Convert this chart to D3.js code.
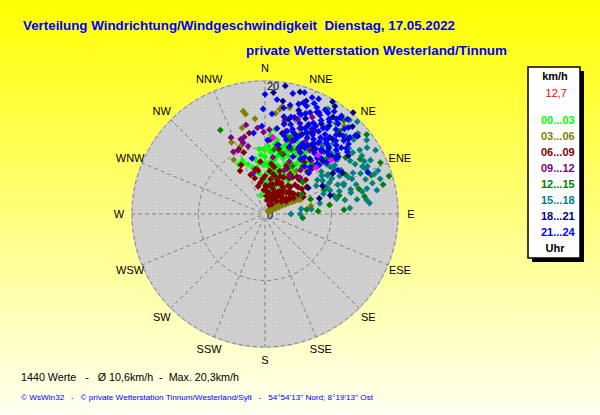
<!DOCTYPE html>
<html lang="de">
<head>
  <meta charset="utf-8">
  <title>Windrichtung / Windgeschwindigkeit</title>
  <script src="https://cdn.jsdelivr.net/npm/d3@7"></script>
  <style>
    body { margin: 0; background: #fff; }
    svg { display: block; font-family: Arial, "Liberation Sans", sans-serif; }
  </style>
</head>
<body>
  <svg id="chart" width="600" height="415"></svg>

  <script>
    const directions = ["N", "NNE", "NE", "ENE", "E", "ESE", "SE", "SSE", "S", "SSW", "SW", "WSW", "W", "WNW", "NW", "NNW"]
    const periods = ["00...03", "03...06", "06...09", "09...12", "12...15", "15...18", "18...21", "21...24"]
    const periodColors = ["#00ff00", "#808000", "#800000", "#800080", "#008000", "#008080", "#000080", "#0000ff"]

    // [Richtung in Grad, Geschwindigkeit km/h]
    const p00 = [[332,8.5],[337,8.7],[341,7.9],[336,8.3],[348,2.9],[345,7.2],[350,8.4],[352,6.1],[355,9.8],[358,7.4],[0,8.6],[2,5.9],[3,10.2],[5,7.1],[6,9.3],[8,6.4],[9,11.3],[10,8.2],[12,5.4],[13,9.6],[14,7.5],[16,10.7],[17,6.3],[18,8.8],[20,11.7],[21,5.1],[22,9.4],[23,7.2],[25,10.3],[26,6.6],[27,4.9],[28,8.5],[30,11.5],[31,7.7],[33,9.6],[35,6.1],[36,12.1],[38,8.9],[40,10.4],[42,7.3],[44,11.6],[46,9.1],[15,12.4],[7,12.8],[24,13.2],[3,4.6],[11,3.9],[358,5.2],[19,4.2],[29,3.5],[4,11.9],[11,9.9],[19,10.0],[26,8.0],[33,11.0],[15,6.8],
      [1,7.6],[4,9.5],[6,8.0],[8,10.6],[10,6.8],[12,8.9],[14,10.3],[16,7.4],[18,11.1],[20,6.9],[22,8.1],[24,10.9],[26,11.8],[28,9.9],[30,6.4],[32,8.9],[34,10.5],[37,7.3],[39,9.6],[353,7.8],[356,8.9],[359,9.7],[27,6.1],[17,5.6]]
    const p03 = [[46,0.6],[47,1.1],[48,1.6],[48,2.1],[49,2.6],[50,3.1],[50,3.6],[60,0.9],[62,1.4],[63,1.9],[64,2.4],[64,2.9],[65,3.4],[65,3.9],[66,4.4],[66,4.9],[67,5.4],[68,5.8],[55,1.2],[57,2.0],[58,2.8],
      [53,1.8],[54,2.6],[56,3.4],[57,4.2],[59,4.9],[60,5.6],[61,3.0],[62,4.4],[59,2.2],[63,5.1],[52,4.0],[55,4.7],
      [348,15.8],[349,15.3],[354,14.4],[345,13.4],[335,11.9],[8,15.9],[9,16.3],[13,16.4],[6,15.2],[12,14.1],[350,7.0],[10,4.7],[80,7.0],[82,6.8],[42,17.8],[30,10.5],[20,12.6],[36,8.0],[25,6.2],[330,9.4],[340,10.8],[18,14.9],[28,14.0]]
    const p06 = [[349,12.4],[338,10.5],[341,9.8],[4,11.2],[330,7.5],[334,8.2],[340,6.3],[344,5.6],[348,6.9],[352,4.8],[355,7.9],[357,3.6],[0,5.7],[4,2.7],[6,6.5],[10,4.4],[11,7.2],[13,3.2],[14,5.9],[18,2.4],[19,6.8],[21,4.9],[24,3.6],[26,7.6],[28,5.3],[29,2.9],[33,4.1],[34,6.5],[36,3.3],[37,9.8],[39,5.5],[41,7.4],[42,2.6],[44,4.6],[46,6.3],[48,3.5],[50,8.0],[52,5.1],[54,3.9],[56,6.7],[58,4.4],[60,5.8],[62,6.5],[66,6.3],[20,10.6],[27,11.3],[12,10.0],[45,9.0],[35,1.8],[25,1.5],[3,4.1],[9,5.3],[15,4.6],[22,6.1],[30,3.9],[38,4.2],[47,5.0],
      [1,4.3],[5,3.4],[7,7.6],[9,2.1],[12,6.1],[17,4.0],[20,5.4],[22,3.0],[24,7.9],[26,2.3],[27,6.2],[30,5.0],[32,7.1],[35,4.8],[37,6.9],[40,3.8],[43,5.6],[45,7.3],[49,4.8],[51,6.4],[53,3.1],[55,5.3],[57,7.5],[59,3.7],[61,4.9],[356,5.3],[351,6.6],[346,4.3]]
    const p09 = [[342,11.8],[333,10.5],[337,10.4],[343,11.2],[355,13.0],[3,12.7],[344,6.4],[345,12.0],[346,10.5],[359,12.3],[5,11.4],[348,13.7],[336,12.6],[10,10.5],[14,12.8],[17,9.4],[20,11.6],[22,13.9],[25,8.7],[27,10.9],[29,12.4],[31,14.6],[33,9.8],[35,11.7],[37,13.3],[39,8.5],[41,10.6],[43,12.9],[46,9.7],[48,11.8],[50,14.2],[19,15.1],[26,16.2],[12,14.4],[8,8.6],[24,7.2],[33,6.8],[44,7.6]]
    const p12 = [[332,14.3],[76,18.3],[87,11.9],[87,8.0],[76,11.5],[75,14.6],[96,5.7],[52,19.4],[42,16.8],[80,15.2],[70,17.0],[64,13.5],[58,11.2],[68,9.6],[82,9.8],[60,16.5],[55,14.8],[48,12.6],[45,10.3],[38,9.2],[30,8.3],[22,10.5],[15,9.4],[35,12.2],[28,13.8],[50,7.4],[72,7.2],[84,6.3],[66,19.0],[73,19.5],[40,18.4],[18,12.1],[8,9.8],[62,6.2]]
    const p15 = [[90,3.9],[90,5.3],[82,5.5],[84,7.0],[31,18.4],[38,17.3],[49,18.5],[38,18.4],[56,17.2],[70,17.5],[63,17.8],[69,18.2],[73,18.1],[82,15.4],[77,15.0],[57,18.3],[66,13.7],[55,12.8],[50,14.2],[52,16.0],[58,15.1],[60,13.2],[62,11.4],[64,16.3],[67,15.6],[70,12.6],[72,14.4],[74,16.8],[76,13.3],[78,17.2],[80,12.2],[46,16.9],[44,14.8],[48,12.1],[53,10.6],[57,9.4],[61,8.8],[66,10.1],[71,9.3],[42,19.0],[45,19.6],[60,19.2],[35,15.9],[40,13.5],[58,11.0],[68,11.8],[75,10.7],[79,8.4],[86,12.8],[84,15.8],[54,18.9],[65,17.0],
      [47,13.5],[50,17.4],[51,11.9],[53,13.6],[55,16.1],[56,10.3],[57,12.4],[59,17.0],[61,15.5],[62,16.9],[63,12.6],[65,14.6],[66,16.6],[68,14.1],[69,12.7],[71,16.0],[73,11.7],[74,13.4],[76,15.8],[78,11.0],[81,14.0],[70,10.4],[64,10.8],[60,10.0],[54,12.1]]
    const p18 = [[4,18.3],[9,19.5],[9,17.2],[20,18.1],[31,19.7],[41,20.2],[38,18.4],[45,18.6],[27,17.2],[23,15.6],[33,19.3],[36,16.4],[42,15.2],[48,16.8],[30,14.1],[25,13.2],[18,16.4],[14,14.7],[34,12.6],[52,14.0],[55,15.3],[59,11.9],[74,10.2],[74,8.5],[59,7.6],[64,9.6],[47,11.8],[39,10.7],[28,11.4],[44,13.8],[50,18.2],[16,19.1],[12,12.4],[62,13.2],
      [21,12.8],[26,14.8],[32,16.0],[37,12.1],[43,16.4],[49,13.3],[35,17.8],[40,14.7]]
    const p21 = [[10,16.2],[12,13.8],[13,18.6],[15,15.1],[16,11.6],[17,17.3],[18,13.4],[19,16.0],[20,10.8],[21,14.6],[22,18.9],[23,12.5],[24,16.7],[25,14.2],[26,17.8],[27,11.3],[28,15.5],[29,13.1],[30,18.1],[31,16.4],[32,12.2],[33,14.8],[34,17.2],[35,10.4],[36,15.9],[37,13.6],[38,18.7],[39,11.8],[40,16.6],[41,14.1],[42,12.7],[43,17.5],[44,15.3],[45,13.2],[46,10.9],[47,16.2],[48,14.4],[49,18.0],[50,12.1],[51,15.7],[52,13.5],[11,10.6],[14,12.1],[26,9.6],[33,9.9],[40,9.3],[47,9.0],[21,17.4],[29,17.0],[35,12.9],[18,19.2],[25,19.1],[31,13.9],[37,15.0],[43,14.0],[23,14.0],[45,16.6],[39,17.5],[28,12.0],[34,15.6],[20,15.9],[16,14.0],[49,15.2],[41,18.9],[30,10.7],[48,11.0],[44,9.8],[359,15.8],[358,13.2],[4,15.1],[2,11.1],[347,8.6],[6,17.3],[0,18.0],[352,12.3],[8,13.0],[68,16.7],[59,12.8],[53,15.5],
      [11,14.9],[13,16.8],[15,12.9],[17,15.2],[19,13.0],[21,11.9],[22,16.3],[24,12.9],[24,18.2],[26,15.0],[27,13.7],[28,17.3],[30,15.3],[31,11.6],[32,17.9],[33,13.4],[35,16.9],[36,14.2],[37,17.9],[38,12.4],[40,15.1],[41,12.9],[42,16.0],[44,18.1],[45,11.9],[46,14.9],[47,13.1],[48,17.2],[50,16.4],[51,13.9],[19,17.7],[22,12.0],[34,18.6],[43,11.5],[39,14.4],[29,14.6]]
    const current = [[48,10.4],[42,11.9],[6,11.6],[51,12.8]]

    const series = [p00, p03, p06, p09, p12, p15, p18, p21]

    const countText = "1440 Werte   -   Ø 10,6km/h  -  Max. 20,3km/h"
    const currentSpeed = "12,7"
    const maxSpeed = 20

    const svg = d3.select("#chart")
    const cx = 265, cy = 214, R = 133

    const defs = svg.append("defs")
    const grad = defs.append("linearGradient").attr("id", "bg").attr("x1", 0).attr("y1", 0).attr("x2", 0).attr("y2", 1)
    grad.append("stop").attr("offset", "0%").attr("stop-color", "#ffff00")
    grad.append("stop").attr("offset", "100%").attr("stop-color", "#fffff2")

    const pat = defs.append("pattern").attr("id", "dots").attr("width", 3).attr("height", 3).attr("patternUnits", "userSpaceOnUse")
    pat.append("rect").attr("width", 3).attr("height", 3).attr("fill", "#cdcdcd")
    pat.append("rect").attr("width", 1).attr("height", 1).attr("fill", "#dcdcdc")

    svg.append("rect").attr("width", 600).attr("height", 415).attr("fill", "url(#bg)")

    // Titel
    svg.append("text").attr("x", 23).attr("y", 30).attr("fill", "#0000ff").attr("font-size", 13).attr("font-weight", "bold")
      .attr("textLength", 432).attr("lengthAdjust", "spacingAndGlyphs").style("white-space", "pre")
      .text("Verteilung Windrichtung/Windgeschwindigkeit  Dienstag, 17.05.2022")
    svg.append("text").attr("x", 246).attr("y", 55).attr("fill", "#0000ff").attr("font-size", 13).attr("font-weight", "bold")
      .attr("textLength", 261).attr("lengthAdjust", "spacingAndGlyphs")
      .text("private Wetterstation Westerland/Tinnum")

    const r = d3.scaleLinear().domain([0, maxSpeed]).range([0, R])
    const a = d3.scaleLinear().domain([0, 360]).range([0, 2 * Math.PI])

    const g = svg.append("g").attr("transform", `translate(${cx},${cy})`)

    g.append("circle").attr("r", R + 1).attr("fill", "url(#dots)")

    const grid = g.append("g").attr("stroke", "#808080").attr("stroke-dasharray", "4,3").attr("fill", "none")
    grid.append("circle").attr("r", r(10))
    grid.append("circle").attr("r", r(20))
    grid.selectAll("line").data(directions).join("line")
      .attr("x1", (d, i) => d3.pointRadial(a(i * 22.5), r(0.6))[0])
      .attr("y1", (d, i) => d3.pointRadial(a(i * 22.5), r(0.6))[1])
      .attr("x2", (d, i) => d3.pointRadial(a(i * 22.5), R)[0])
      .attr("y2", (d, i) => d3.pointRadial(a(i * 22.5), R)[1])

    g.selectAll(".dir").data(directions).join("text").attr("class", "dir")
      .attr("x", (d, i) => d3.pointRadial(a(i * 22.5), R + 13)[0])
      .attr("y", (d, i) => d3.pointRadial(a(i * 22.5), R + 13)[1])
      .attr("text-anchor", "middle").attr("dominant-baseline", "central")
      .attr("font-size", 11).attr("fill", "#000")
      .text(d => d)

    g.append("text").attr("x", 2).attr("y", -r(20) + 9).attr("font-size", 11).text("20")
    g.append("text").attr("x", 2).attr("y", 5).attr("font-size", 11).text("0")

    const diamond = "M0,-3.4L3.4,0L0,3.4L-3.4,0Z"
    const place = d => {
      const p = d3.pointRadial(a(d[0]), r(d[1]))
      return `translate(${p[0]},${p[1]})`
    }

    series.forEach((pts, i) => {
      g.append("g").selectAll("path").data(pts).join("path")
        .attr("d", diamond).attr("fill", periodColors[i]).attr("transform", place)
    })
    g.append("g").selectAll("path").data(current).join("path")
      .attr("d", diamond).attr("fill", "#ff00ff").attr("transform", place)

    // Legende
    const lg = svg.append("g").attr("transform", "translate(528,67)")
    lg.append("rect").attr("x", 4).attr("y", 4).attr("width", 52).attr("height", 191).attr("fill", "#000")
    lg.append("rect").attr("width", 52).attr("height", 191).attr("fill", "#fff").attr("stroke", "#000").attr("stroke-width", 1.5)
    lg.append("text").attr("x", 27).attr("y", 13).attr("text-anchor", "middle").attr("font-size", 11).attr("font-weight", "bold").text("km/h")
    lg.append("text").attr("x", 39).attr("y", 30).attr("text-anchor", "end").attr("font-size", 11).attr("fill", "#ff0000").text(currentSpeed)
    lg.selectAll(".per").data(periods).join("text").attr("class", "per")
      .attr("x", 13).attr("y", (d, i) => 57 + i * 16)
      .attr("font-size", 11).attr("font-weight", "bold")
      .attr("fill", (d, i) => periodColors[i])
      .text(d => d)
    lg.append("text").attr("x", 27).attr("y", 185).attr("text-anchor", "middle").attr("font-size", 11).attr("font-weight", "bold").text("Uhr")

    // Fusszeilen
    svg.append("text").attr("x", 21).attr("y", 381).attr("font-size", 11).attr("fill", "#000")
      .attr("textLength", 218).attr("lengthAdjust", "spacingAndGlyphs").style("white-space", "pre")
      .text(countText)
    svg.append("text").attr("x", 21).attr("y", 400).attr("font-size", 8).attr("fill", "#0000ff")
      .attr("textLength", 352).attr("lengthAdjust", "spacingAndGlyphs").style("white-space", "pre")
      .text("© WsWin32   -   © private Wetterstation Tinnum/Westerland/Sylt   -   54°54'13\" Nord; 8°19'13\" Ost")
  </script>
</body>
</html>
